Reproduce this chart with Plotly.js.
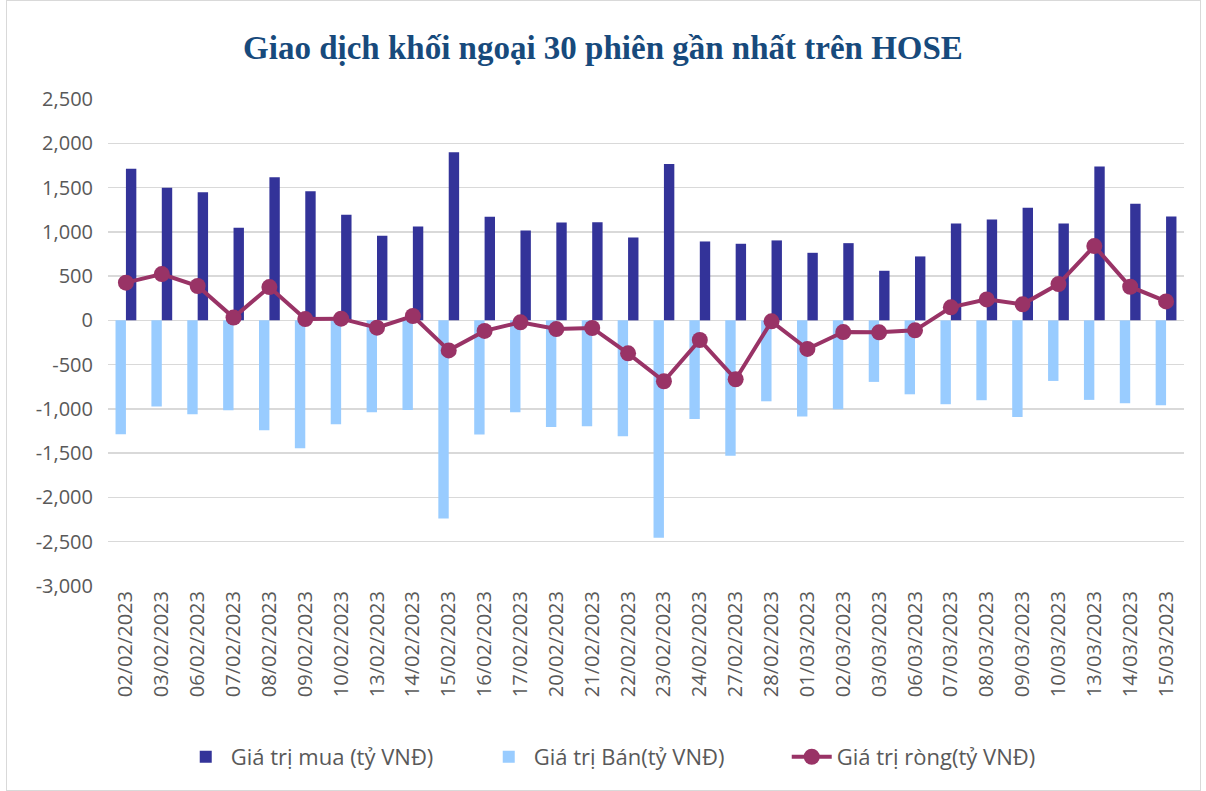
<!DOCTYPE html>
<html>
<head>
<meta charset="utf-8">
<script src="https://cdn.plot.ly/plotly-3.0.1.min.js"></script>
<style>
html,body{margin:0;padding:0;background:#fff;}
#wrap{position:relative;width:1206px;height:791px;}
#chart{position:absolute;left:0;top:0;width:1206px;height:791px;}
#frame{position:absolute;left:6px;top:0;width:1193px;height:789px;border:1px solid #d9d9d9;pointer-events:none;}
</style>
</head>
<body>
<div id="wrap"><div id="chart"></div><div id="frame"></div></div>
<script>
const dates = ["02/02/2023","03/02/2023","06/02/2023","07/02/2023","08/02/2023","09/02/2023","10/02/2023","13/02/2023","14/02/2023","15/02/2023","16/02/2023","17/02/2023","20/02/2023","21/02/2023","22/02/2023","23/02/2023","24/02/2023","27/02/2023","28/02/2023","01/03/2023","02/03/2023","03/03/2023","06/03/2023","07/03/2023","08/03/2023","09/03/2023","10/03/2023","13/03/2023","14/03/2023","15/03/2023"];
const buyValues = [1712,1497,1448,1046,1617,1459,1192,955,1060,1898,1170,1016,1105,1109,936,1767,891,865,903,763,872,560,722,1094,1139,1271,1094,1737,1316,1173];
const sellValues = [-1286,-974,-1060,-1015,-1241,-1444,-1173,-1038,-1011,-2237,-1289,-1038,-1203,-1195,-1308,-2455,-1113,-1530,-914,-1086,-1004,-695,-835,-947,-902,-1090,-684,-898,-936,-959];
const netValues = [426,523,388,31,376,15,19,-83,49,-339,-119,-22,-98,-86,-372,-688,-222,-665,-11,-323,-132,-135,-113,147,237,181,410,839,380,214];
const yTicks = [2500,2000,1500,1000,500,0,-500,-1000,-1500,-2000,-2500,-3000];
const yTickText = ["2,500","2,000","1,500","1,000","500","0","-500","-1,000","-1,500","-2,000","-2,500","-3,000"];

const FONT = "Open Sans, Noto Sans, sans-serif";

const traces = [
  {type:'bar', name:'Giá trị Bán(tỷ VNĐ)', x:dates, y:sellValues, marker:{color:'#99CCFF'}, legendrank:2},
  {type:'bar', name:'Giá trị mua (tỷ VNĐ)', x:dates, y:buyValues, marker:{color:'#333399'}, legendrank:1},
  {type:'scatter', mode:'lines+markers', name:'Giá trị ròng(tỷ VNĐ)', x:dates, y:netValues,
   line:{color:'#993366', width:4}, marker:{color:'#993366', size:16}, legendrank:3}
];

const layout = {
  width:1206, height:791,
  paper_bgcolor:'rgba(0,0,0,0)', plot_bgcolor:'rgba(0,0,0,0)',
  margin:{l:108, r:22, t:99, b:205},
  title:{text:'<b>Giao dịch khối ngoại 30 phiên gần nhất trên HOSE</b>', x:0.5, xanchor:'center', y:0.94, yanchor:'middle',
         font:{family:'Liberation Serif, DejaVu Serif, serif', size:33, color:'#174A7C'}},
  barmode:'group', bargap:0.42, bargroupgap:0,
  xaxis:{type:'category', range:[-0.5,29.5], tickangle:-90, tickfont:{family:FONT, size:20, color:'#595959'},
         showgrid:false, showline:false, ticks:'', automargin:false},
  yaxis:{range:[-3000,2500], tickvals:yTicks, ticktext:yTickText, tickfont:{family:FONT, size:20, color:'#595959'},
         gridcolor:'#d9d9d9', gridwidth:1.5, zeroline:true, zerolinecolor:'#d9d9d9', zerolinewidth:1.5,
         showline:false, ticks:'', ticklabelstandoff:14, automargin:false},
  legend:{orientation:'h', x:0.49, xanchor:'center', y:-0.351, yanchor:'middle',
          font:{family:FONT, size:22, color:'#595959'}, itemwidth:40, entrywidth:248, traceorder:'normal', tracegroupgap:0},
  showlegend:true
};

Plotly.newPlot('chart', traces, layout, {displayModeBar:false, staticPlot:true});
</script>
</body>
</html>
